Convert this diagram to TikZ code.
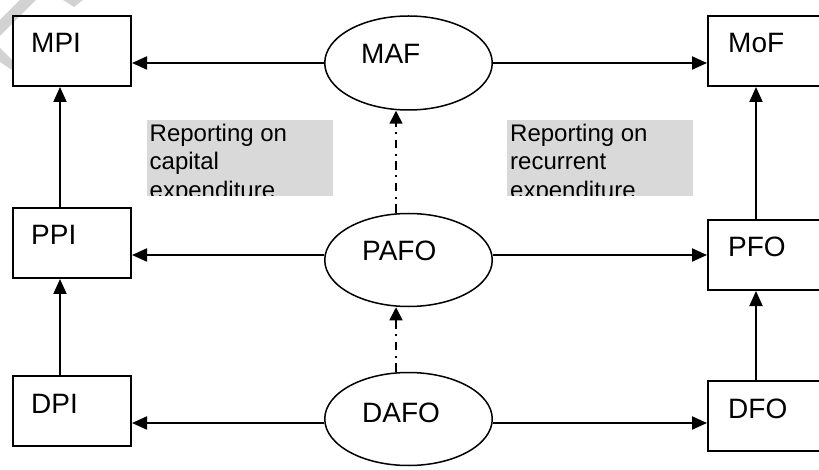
\documentclass[tikz,border=0pt]{standalone}
\usepackage{fontspec}
\setmainfont{Liberation Sans}
\usetikzlibrary{arrows.meta,shapes.geometric,calc}
\definecolor{labelgrey}{RGB}{217,217,217}
\definecolor{wmgrey}{RGB}{210,210,210}
\begin{document}
\begin{tikzpicture}[x=1pt,y=-1pt,
 box/.style={draw,line width=2pt,minimum width=118pt,minimum height=70pt,inner sep=0pt},
 oval/.style={draw,ellipse,line width=1.5pt,minimum width=167.5pt,minimum height=93pt,inner sep=0pt},
 nametext/.style={font=\fontsize{28}{32}\selectfont,anchor=base west,inner sep=0pt},
 notetext/.style={font=\fontsize{24}{28}\selectfont,anchor=base west,inner sep=0pt},
 arr/.style={line width=2pt,-{Triangle[length=15pt,width=13pt]}},
 darr/.style={line width=1.5pt,dash pattern=on 8.5pt off 5.5pt on 2pt off 5.5pt,-{Triangle[length=13pt,width=13pt]}}]
\useasboundingbox (0,0) rectangle (819,470);
% faint watermark fragment
\fill[wmgrey] (0,20) -- (20,0) -- (36,0) -- (0,36) -- cycle;
\fill[wmgrey] (0,48) -- (12,60) -- (12,70) -- (0,62) -- cycle;
\fill[wmgrey] (63,0) -- (83,0) -- (74,7) -- cycle;
% boxes
\node[box] (MPI) at (72,51) {};
\node[box] (PPI) at (72,243) {};
\node[box] (DPI) at (72,411) {};
\node[box] (MoF) at (767,51) {};
\node[box] (PFO) at (767,255) {};
\node[box] (DFO) at (767,416) {};
% ovals
\node[oval,minimum height=94pt] (MAF) at (408.5,63) {};
\node[oval] (PAFO) at (408.5,260) {};
\node[oval] (DAFO) at (408.5,419) {};
% texts
\node[nametext] (tMPI) at (31,53) {MPI};
\node[nametext] (tPPI) at (31,245) {PPI};
\node[nametext] (tDPI) at (31,413) {DPI};
\node[nametext] (tMoF) at (728,53) {MoF};
\node[nametext] (tPFO) at (728,257) {PFO};
\node[nametext] (tDFO) at (728,418) {DFO};
\node[nametext] (tMAF) at (361,64) {MAF};
\node[nametext] (tPAFO) at (362,261) {PAFO};
\node[nametext] (tDAFO) at (362,422) {DAFO};
% grey notes
\begin{scope}
\clip (147,120) rectangle (333,196);
\fill[labelgrey] (147,120) rectangle (333,196);
\node[notetext] (cap1) at (149.5,141.7) {Reporting on};
\node[notetext] (cap2) at (149.5,170) {capital};
\node[notetext] (cap3) at (149.5,198.3) {expenditure};
\end{scope}
\begin{scope}
\clip (507,120) rectangle (693,196);
\fill[labelgrey] (507,120) rectangle (693,196);
\node[notetext] (rec1) at (510,141.7) {Reporting on};
\node[notetext] (rec2) at (510,170) {recurrent};
\node[notetext] (rec3) at (510,198.3) {expenditure};
\end{scope}
% helper coordinates
\coordinate (h1) at (0,63);
\coordinate (h2) at (0,255);
\coordinate (h3) at (0,423);
\coordinate (vl) at (60,0);
\coordinate (vr) at (756,0);
\coordinate (dd) at (396,0);
% horizontal arrows
\draw[arr] (MAF.west |- h1) -- (MPI.east |- h1);
\draw[arr] (MAF.east |- h1) -- (MoF.west |- h1);
\draw[arr] (PAFO.west |- h2) -- (PPI.east |- h2);
\draw[arr] (PAFO.east |- h2) -- (PFO.west |- h2);
\draw[arr] (DAFO.west |- h3) -- (DPI.east |- h3);
\draw[arr] (DAFO.east |- h3) -- (DFO.west |- h3);
% vertical arrows
\draw[arr] (PPI.north -| vl) -- (MPI.south -| vl);
\draw[arr] (DPI.north -| vl) -- (PPI.south -| vl);
\draw[arr] (PFO.north -| vr) -- (MoF.south -| vr);
\draw[arr] (DFO.north -| vr) -- (PFO.south -| vr);
% dash-dot arrows
\draw[darr] (PAFO.north -| dd) -- (MAF.south -| dd);
\draw[darr] (DAFO.north -| dd) -- (PAFO.south -| dd);
\end{tikzpicture}
\end{document}
